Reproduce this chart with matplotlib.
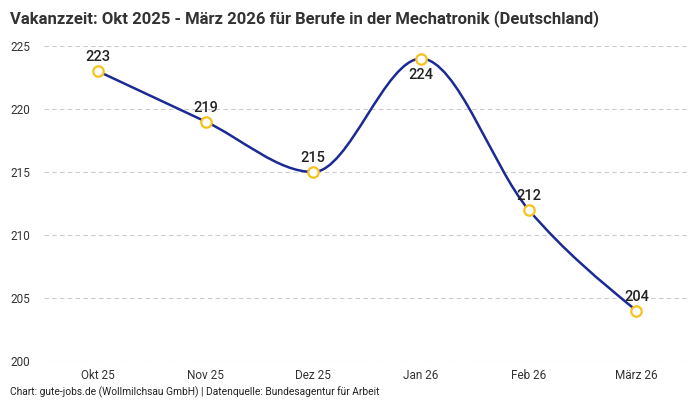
import numpy as np
import matplotlib.pyplot as plt
from matplotlib.path import Path
from matplotlib.patches import PathPatch

# Data
months = ['Okt 25', 'Nov 25', 'Dez 25', 'Jan 26', 'Feb 26', 'März 26']
vacancy_days = [223, 219, 215, 224, 212, 204]
label_below = [False, False, False, True, False, False]

line_color = '#1b2a94'
marker_color = '#f7c21b'
text_color = '#222222'

plt.rcParams['font.family'] = ['Roboto', 'DejaVu Sans']

fig = plt.figure(figsize=(7, 4), dpi=100)
ax = fig.add_axes([0.063, 0.0975, 0.923, 0.7875])

x = np.arange(len(months), dtype=float)
y = np.array(vacancy_days, dtype=float)


def monotone_tangents(xs, ys):
    # same rule as d3 curveMonotoneX (Steffen)
    n = len(xs)
    h = np.diff(xs)
    s = np.diff(ys) / h
    t = np.zeros(n)
    for i in range(1, n - 1):
        p = (s[i - 1] * h[i] + s[i] * h[i - 1]) / (h[i - 1] + h[i])
        t[i] = (np.sign(s[i - 1]) + np.sign(s[i])) * min(abs(s[i - 1]), abs(s[i]), 0.5 * abs(p))
    t[0] = (3 * s[0] - t[1]) / 2 if h[0] else 0
    t[-1] = (3 * s[-1] - t[-2]) / 2 if h[-1] else 0
    return t


t = monotone_tangents(x, y)
verts = [(x[0], y[0])]
codes = [Path.MOVETO]
for i in range(len(x) - 1):
    dx = (x[i + 1] - x[i]) / 3
    verts += [(x[i] + dx, y[i] + dx * t[i]),
              (x[i + 1] - dx, y[i + 1] - dx * t[i + 1]),
              (x[i + 1], y[i + 1])]
    codes += [Path.CURVE4] * 3
ax.add_patch(PathPatch(Path(verts, codes), facecolor='none', edgecolor=line_color, lw=1.8, zorder=3))

ax.plot(x, y, linestyle='none', marker='o', markersize=7.5, markerfacecolor='white',
        markeredgecolor=marker_color, markeredgewidth=1.6, zorder=4)

for xi, yi, below in zip(x, y, label_below):
    if below:
        ax.annotate(f'{int(yi)}', (xi, yi), xytext=(0, -7), textcoords='offset points',
                    ha='center', va='top', fontsize=10.5, color=text_color, fontweight='medium')
    else:
        ax.annotate(f'{int(yi)}', (xi, yi), xytext=(0, 5), textcoords='offset points',
                    ha='center', va='bottom', fontsize=10.5, color=text_color, fontweight='medium')

ax.set_xlim(-0.5, len(months) - 0.5)
ax.set_ylim(200, 225)
ax.set_yticks([200, 205, 210, 215, 220, 225])
ax.set_xticks(x)
ax.set_xticklabels(months)
ax.tick_params(axis='both', length=0, labelsize=8.5, colors='#333333')
ax.tick_params(axis='x', pad=6)
for lbl in ax.get_yticklabels():
    lbl.set_horizontalalignment('left')
ax.yaxis.set_tick_params(pad=24.5)

ax.grid(axis='y', color='#cccccc', linestyle=(0, (4, 3)), linewidth=0.8)
ax.set_axisbelow(True)
for sp in ax.spines.values():
    sp.set_visible(False)

fig.text(0.014, 0.975, 'Vakanzzeit: Okt 2025 - März 2026 für Berufe in der Mechatronik (Deutschland)',
         fontsize=12, fontweight='bold', color='#333333', ha='left', va='top')
fig.text(0.014, 0.006, 'Chart: gute-jobs.de (Wollmilchsau GmbH) | Datenquelle: Bundesagentur für Arbeit',
         fontsize=7.4, color='#222222', ha='left', va='bottom')

fig.savefig('out.png', dpi=100)
